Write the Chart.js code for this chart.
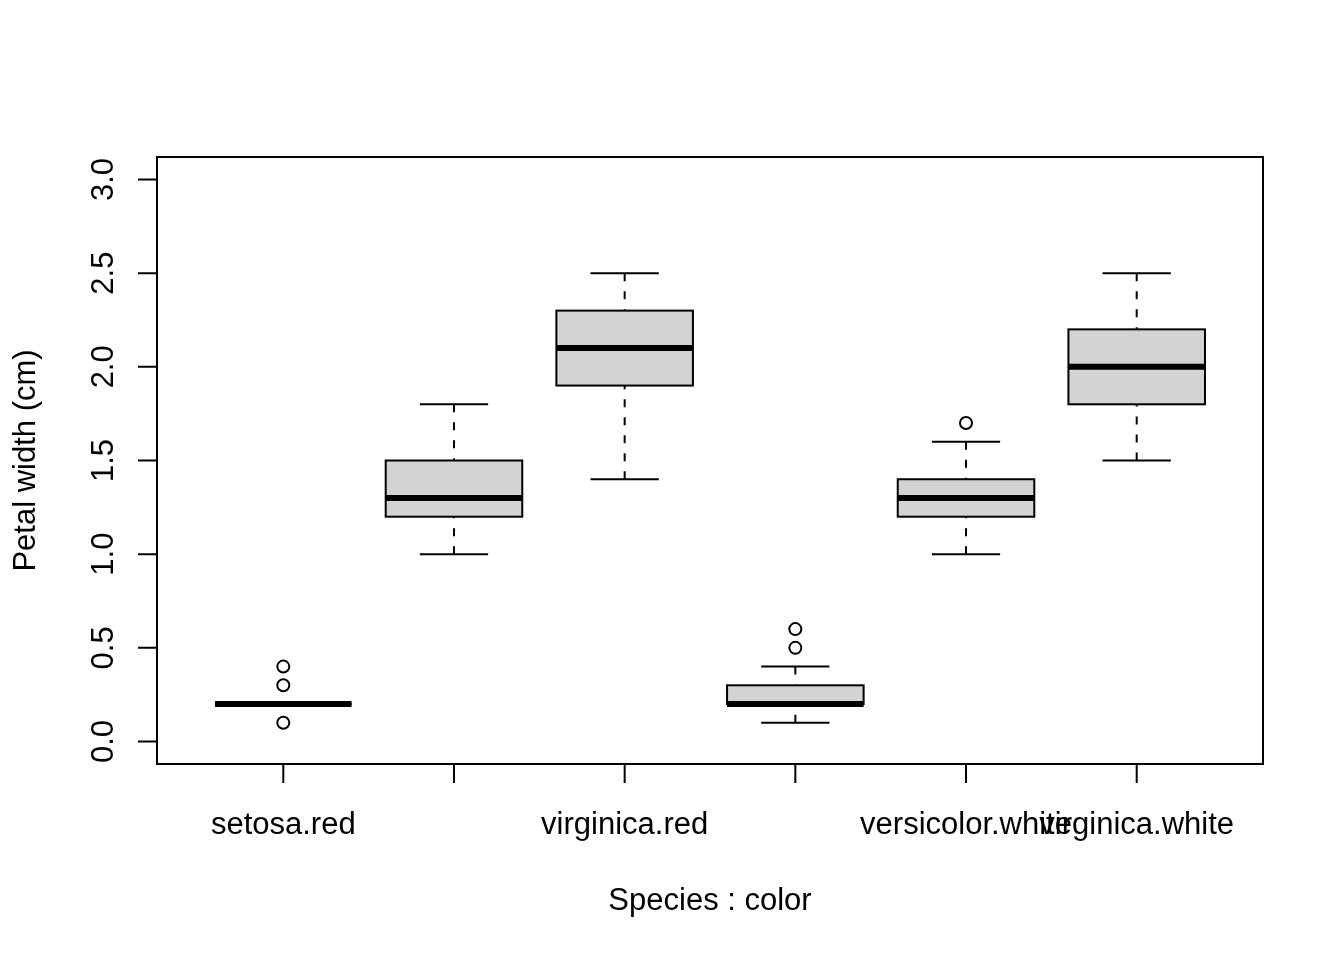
<!DOCTYPE html>
<html>
<head>
<meta charset="utf-8">
<script src="https://cdn.jsdelivr.net/npm/chart.js@4.4.1/dist/chart.umd.min.js"></script>
<style>
html,body{margin:0;padding:0;background:#fff;}
#wrap{width:1344px;height:960px;}
</style>
</head>
<body>
<div id="wrap"><canvas id="c" width="1344" height="960"></canvas></div>
<script>
// ---- data ----
const categories = ['setosa.red','versicolor.red','virginica.red','setosa.white','versicolor.white','virginica.white'];
const tickLabels = ['setosa.red','','virginica.red','','versicolor.white','virginica.white'];
const whiskerLow  = [0.2, 1.0, 1.4, 0.1, 1.0, 1.5];
const q1          = [0.2, 1.2, 1.9, 0.2, 1.2, 1.8];
const medians     = [0.2, 1.3, 2.1, 0.2, 1.3, 2.0];
const q3          = [0.2, 1.5, 2.3, 0.3, 1.4, 2.2];
const whiskerHigh = [0.2, 1.8, 2.5, 0.4, 1.6, 2.5];
const outliers    = [[0.4, 0.3, 0.1], [], [], [0.5, 0.6], [1.7], []];
const yTicks = [0, 0.5, 1.0, 1.5, 2.0, 2.5, 3.0];
const yTickLabels = ['0.0','0.5','1.0','1.5','2.0','2.5','3.0'];
const xTitle = 'Species : color';
const yTitle = 'Petal width (cm)';

// build outlier points
const outlierPoints = [];
outliers.forEach((arr, i) => arr.forEach(v => outlierPoints.push({x: i + 1, y: v})));

const FONT = '31px "Liberation Sans", Arial, sans-serif';

const boxPlugin = {
  id: 'rbox',
  beforeDatasetsDraw(chart) {
    const ctx = chart.ctx;
    const xs = chart.scales.x, ys = chart.scales.y;
    const half = 0.4, capHalf = 0.2;
    ctx.save();
    ctx.strokeStyle = '#000';
    categories.forEach((c, i) => {
      const xc = xs.getPixelForValue(i + 1);
      const xl = xs.getPixelForValue(i + 1 - half);
      const xr = xs.getPixelForValue(i + 1 + half);
      const cl = xs.getPixelForValue(i + 1 - capHalf);
      const cr = xs.getPixelForValue(i + 1 + capHalf);
      const yq1 = ys.getPixelForValue(q1[i]);
      const yq3 = ys.getPixelForValue(q3[i]);
      const ym = ys.getPixelForValue(medians[i]);
      const ylo = ys.getPixelForValue(whiskerLow[i]);
      const yhi = ys.getPixelForValue(whiskerHigh[i]);
      // whiskers dashed (drawn from whisker end toward the box)
      ctx.lineWidth = 2;
      ctx.setLineDash([8, 10]);
      ctx.beginPath();
      ctx.moveTo(xc, yhi); ctx.lineTo(xc, yq3);
      ctx.stroke();
      ctx.beginPath();
      ctx.moveTo(xc, ylo); ctx.lineTo(xc, yq1);
      ctx.stroke();
      ctx.setLineDash([]);
      // caps
      ctx.beginPath();
      ctx.moveTo(cl, yhi); ctx.lineTo(cr, yhi);
      ctx.moveTo(cl, ylo); ctx.lineTo(cr, ylo);
      ctx.stroke();
      // box
      ctx.fillStyle = '#D3D3D3';
      ctx.fillRect(xl, yq3, xr - xl, yq1 - yq3);
      ctx.strokeRect(xl, yq3, xr - xl, yq1 - yq3);
      // median
      ctx.lineWidth = 6;
      ctx.lineCap = 'butt';
      ctx.beginPath();
      ctx.moveTo(xl, ym); ctx.lineTo(xr, ym);
      ctx.stroke();
    });
    ctx.restore();
  },
  afterDraw(chart) {
    const ctx = chart.ctx;
    const xs = chart.scales.x, ys = chart.scales.y;
    const a = chart.chartArea;
    ctx.save();
    ctx.strokeStyle = '#000';
    ctx.fillStyle = '#000';
    ctx.lineWidth = 2;
    // frame
    ctx.strokeRect(a.left, a.top, a.right - a.left, a.bottom - a.top);
    // x ticks
    ctx.beginPath();
    categories.forEach((c, i) => {
      const x = xs.getPixelForValue(i + 1);
      ctx.moveTo(x, a.bottom); ctx.lineTo(x, a.bottom + 19);
    });
    // y ticks
    yTicks.forEach(v => {
      const y = ys.getPixelForValue(v);
      ctx.moveTo(a.left, y); ctx.lineTo(a.left - 19, y);
    });
    ctx.stroke();
    ctx.font = FONT;
    // x labels
    ctx.textAlign = 'center';
    ctx.textBaseline = 'alphabetic';
    tickLabels.forEach((t, i) => {
      if (!t) return;
      ctx.fillText(t, xs.getPixelForValue(i + 1), 834);
    });
    // x title
    ctx.fillText(xTitle, (a.left + a.right) / 2, 910);
    // y labels rotated
    yTicks.forEach((v, i) => {
      const y = ys.getPixelForValue(v);
      ctx.save();
      ctx.translate(113, y);
      ctx.rotate(-Math.PI / 2);
      ctx.fillText(yTickLabels[i], 0, 0);
      ctx.restore();
    });
    // y title
    ctx.save();
    ctx.translate(35, (a.top + a.bottom) / 2);
    ctx.rotate(-Math.PI / 2);
    ctx.fillText(yTitle, 0, 0);
    ctx.restore();
    ctx.restore();
  }
};

new Chart(document.getElementById('c'), {
  type: 'scatter',
  data: {
    datasets: [{
      label: 'outliers',
      data: outlierPoints,
      pointStyle: 'circle',
      pointRadius: 6,
      pointBorderWidth: 2,
      pointBackgroundColor: 'rgba(0,0,0,0)',
      pointBorderColor: '#000',
      pointHoverRadius: 6
    }]
  },
  options: {
    responsive: false,
    devicePixelRatio: 1,
    animation: false,
    events: [],
    layout: { padding: { left: 157, top: 157, right: 81, bottom: 196 } },
    plugins: { legend: { display: false }, tooltip: { enabled: false } },
    scales: {
      x: { type: 'linear', min: 0.26, max: 6.74, display: false },
      y: { type: 'linear', min: -0.12, max: 3.12, display: false }
    }
  },
  plugins: [boxPlugin]
});
</script>
</body>
</html>
